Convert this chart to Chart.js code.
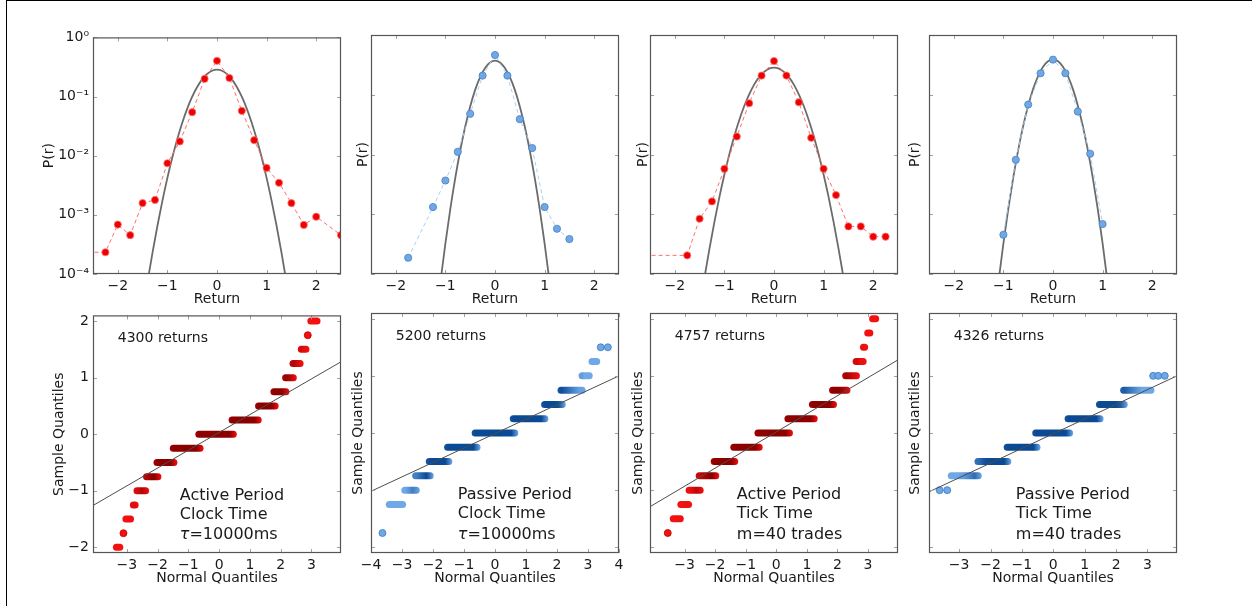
<!DOCTYPE html>
<html>
<head>
<meta charset="utf-8">
<script src="https://cdn.jsdelivr.net/npm/chart.js@4.4.0/dist/chart.umd.min.js"></script>
<style>
  html, body { margin: 0; padding: 0; background: #fff; }
  body { width: 1252px; height: 606px; position: relative; overflow: hidden; }
  #frame { position: absolute; left: 6px; top: 0; width: 1246px; height: 606px;
           border-top: 1px solid #000; border-left: 1px solid #000; box-sizing: border-box; }
  canvas { position: absolute; }
</style>
</head>
<body>
<div id="frame"></div>
<script>
// ---- top row: return distributions (bin centre, probability) ----
const returnTicks = [-2, -1, 0, 1, 2];
const probTicks = [1e-4, 1e-3, 1e-2, 1e-1, 1];

const ret1 = [-2.75, -2.25, -2.0, -1.75, -1.5, -1.25, -1.0, -0.75, -0.5, -0.25, 0, 0.25, 0.5, 0.75, 1.0, 1.25, 1.5, 1.75, 2.0, 2.5];
const prob1 = [2.33e-4, 2.33e-4, 6.85e-4, 4.54e-4, 1.58e-3, 1.79e-3, 7.45e-3, 0.0174, 0.0544, 0.199, 0.402, 0.206, 0.0573, 0.0183, 6.22e-3, 3.49e-3, 1.58e-3, 6.76e-4, 9.3e-4, 4.54e-4];

const ret2 = [-1.75, -1.25, -1.0, -0.75, -0.5, -0.25, 0, 0.25, 0.5, 0.75, 1.0, 1.25, 1.5];
const prob2 = [1.87e-4, 1.32e-3, 3.67e-3, 0.0111, 0.0479, 0.209, 0.463, 0.209, 0.0390, 0.0128, 1.32e-3, 5.72e-4, 3.85e-4];

const ret3 = [-2.75, -1.75, -1.5, -1.25, -1.0, -0.75, -0.5, -0.25, 0, 0.25, 0.5, 0.75, 1.0, 1.25, 1.5, 1.75, 2.0, 2.25];
const prob3 = [2.05e-4, 2.05e-4, 8.41e-4, 1.64e-3, 5.76e-3, 0.0200, 0.0721, 0.209, 0.367, 0.209, 0.0749, 0.0190, 5.76e-3, 2.09e-3, 6.26e-4, 6.26e-4, 4.21e-4, 4.21e-4];

const ret4 = [-1.0, -0.75, -0.5, -0.25, 0, 0.25, 0.5, 0.75, 1.0];
const prob4 = [4.54e-4, 8.15e-3, 0.0685, 0.229, 0.387, 0.229, 0.0523, 0.0103, 6.85e-4];

// gaussian fit curves
const fitXWide = [-1.5, -1.4, -1.3, -1.2, -1.1, -1.0, -0.9, -0.8, -0.7, -0.6, -0.5, -0.4, -0.3, -0.2, -0.1, 0,
                  0.1, 0.2, 0.3, 0.4, 0.5, 0.6, 0.7, 0.8, 0.9, 1.0, 1.1, 1.2, 1.3, 1.4, 1.5];
const fitXNarrow = [-1.2, -1.1, -1.0, -0.9, -0.8, -0.7, -0.6, -0.5, -0.4, -0.3, -0.2, -0.1, 0,
                    0.1, 0.2, 0.3, 0.4, 0.5, 0.6, 0.7, 0.8, 0.9, 1.0, 1.1, 1.2];
const fit1 = [2.2e-5, 7.4e-5, 2.3e-4, 6.6e-4, 1.74e-3, 4.22e-3, 9.4e-3, 0.0192, 0.0361, 0.0625, 0.0993, 0.145, 0.195, 0.241, 0.2735, 0.285,
              0.2735, 0.241, 0.195, 0.145, 0.0993, 0.0625, 0.0361, 0.0192, 9.4e-3, 4.22e-3, 1.74e-3, 6.6e-4, 2.3e-4, 7.4e-5, 2.2e-5];
const fit2 = [1.46e-5, 7.38e-5, 3.24e-4, 1.24e-3, 4.09e-3, 0.0118, 0.0294, 0.0638, 0.1205, 0.197, 0.2805, 0.347, 0.372,
              0.347, 0.2805, 0.197, 0.1205, 0.0638, 0.0294, 0.0118, 4.09e-3, 1.24e-3, 3.24e-4, 7.38e-5, 1.46e-5];
const fit3 = [2.67e-5, 8.85e-5, 2.69e-4, 7.53e-4, 1.95e-3, 4.62e-3, 0.0101, 0.0204, 0.0378, 0.0647, 0.1016, 0.1476, 0.197, 0.2415, 0.2735, 0.285,
              0.2735, 0.2415, 0.197, 0.1476, 0.1016, 0.0647, 0.0378, 0.0204, 0.0101, 4.62e-3, 1.95e-3, 7.53e-4, 2.69e-4, 8.85e-5, 2.67e-5];
const fit4 = [1.43e-5, 7.31e-5, 3.24e-4, 1.25e-3, 4.17e-3, 0.0121, 0.0303, 0.0662, 0.1253, 0.206, 0.294, 0.363, 0.390,
              0.363, 0.294, 0.206, 0.1253, 0.0662, 0.0303, 0.0121, 4.17e-3, 1.25e-3, 3.24e-4, 7.31e-5, 1.43e-5];

// ---- bottom row: QQ plots, one run of points per return level ----
const qqYTicks = [-2, -1, 0, 1, 2];
const qqXTicks = [-3, -2, -1, 0, 1, 2, 3];
const qqXTicksWide = [-4, -3, -2, -1, 0, 1, 2, 3, 4];

const level1 = [-2, -1.5, -1.25, -1, -0.75, -0.5, -0.25, 0, 0.25, 0.5, 0.75, 1, 1.25, 1.5, 2];
const runFrom1 = [-3.34, -3.03, -2.79, -2.67, -2.36, -2.02, -1.49, -0.66, 0.42, 1.28, 1.78, 2.16, 2.40, 2.67, 2.98];
const runTo1 = [-3.23, -2.88, -2.73, -2.39, -1.99, -1.47, -0.62, 0.46, 1.27, 1.82, 2.17, 2.41, 2.63, 2.82, 3.18];
const dotX1 = [-3.11, 2.88];
const dotY1 = [-1.75, 1.75];
const refX1 = [-4.1, 3.96];
const refY1 = [-1.26, 1.28];

const level2 = [-1.25, -1, -0.75, -0.5, -0.25, 0, 0.25, 0.5, 0.75, 1, 1.25];
const runFrom2 = [-3.41, -2.91, -2.56, -2.12, -1.53, -0.64, 0.59, 1.60, 2.13, 2.81, 3.13];
const runTo2 = [-2.98, -2.54, -2.09, -1.49, -0.58, 0.64, 1.61, 2.17, 2.81, 3.04, 3.28];
const dotX2 = [-3.63, 3.41, 3.64];
const dotY2 = [-1.75, 1.5, 1.5];
const refX2 = [-4, 4];
const refY2 = [-1.02, 1.0];

const level3 = [-1.5, -1.25, -1, -0.75, -0.5, -0.25, 0, 0.25, 0.5, 0.75, 1, 1.25, 1.5, 1.75, 2];
const runFrom3 = [-3.37, -3.12, -2.85, -2.52, -2.03, -1.39, -0.60, 0.38, 1.18, 1.84, 2.27, 2.61, 2.85, 2.99, 3.15];
const runTo3 = [-3.14, -2.87, -2.49, -1.98, -1.36, -0.56, 0.43, 1.24, 1.87, 2.31, 2.62, 2.84, 2.89, 3.06, 3.25];
const dotX3 = [-3.55];
const dotY3 = [-1.75];
const refX3 = [-4.13, 3.98];
const refY3 = [-1.29, 1.28];

const level4 = [-0.75, -0.5, -0.25, 0, 0.25, 0.5, 0.75];
const runFrom4 = [-3.25, -2.40, -1.47, -0.56, 0.47, 1.47, 2.24];
const runTo4 = [-2.39, -1.45, -0.52, 0.52, 1.49, 2.26, 3.11];
const dotX4 = [-3.62, -3.38, 3.18, 3.34, 3.55];
const dotY4 = [-1, -1, 1, 1, 1];
const refX4 = [-3.96, 3.94];
const refY4 = [-1.03, 1.0];

const countLabels = ['4300 returns', '5200 returns', '4757 returns', '4326 returns'];
const periodLabels = ['Active Period', 'Passive Period', 'Active Period', 'Passive Period'];
const timeLabels = ['Clock Time', 'Clock Time', 'Tick Time', 'Tick Time'];
const scaleLabels = [['\u03C4', '=10000ms'], ['\u03C4', '=10000ms'], ['', 'm=40 trades'], ['', 'm=40 trades']];

// ---- layout ----
const PLOT_W = 248, PAD_TOP = 10, PAD_RIGHT = 12, AXIS_H = 34;
const plotLefts = [93, 371, 650, 929];
const topCanvasLefts = [41, 355, 635, 907];
const bottomCanvasLefts = [51, 350, 630, 907];

const RED = { face: '#ee0000', edge: '#ff7777', dash: '#ff6e6e',
              dark: '#8c0000', mid: '#a80000', light: '#f21010', dot: '#c00000' };
const BLUE = { face: '#6fa8e6', edge: '#4a7fc2', dash: '#a9cff3',
               dark: '#0a4a94', mid: '#14559f', light: '#6ea8e6', dot: '#3f78c0' };

Chart.defaults.font.family = "'DejaVu Sans', 'Liberation Sans', sans-serif";
Chart.defaults.font.size = 14;
Chart.defaults.color = '#1a1a1a';
Chart.defaults.animation = false;
Chart.defaults.plugins.legend.display = false;
Chart.defaults.plugins.tooltip.enabled = false;

const minus = v => (v < 0 ? '\u2212' + (-v) : String(v));
const SUP = { '-': '\u207B', '0': '\u2070', '1': '\u00B9', '2': '\u00B2', '3': '\u00B3', '4': '\u2074' };
const pow10 = v => '10' + String(Math.round(Math.log10(v))).split('').map(c => SUP[c]).join('');
const xy = (xs, ys) => xs.map((x, i) => ({ x: x, y: ys[i] }));

// frame + inward tick marks like the old matplotlib style
const framePlugin = {
  id: 'frame',
  afterDatasetsDraw(chart) {
    const { ctx, chartArea: a, scales } = chart;
    ctx.save();
    ctx.strokeStyle = '#a0a0a0';
    ctx.lineWidth = 1;
    ctx.beginPath();
    scales.x.ticks.forEach(t => {
      const px = Math.round(scales.x.getPixelForValue(t.value)) + 0.5;
      ctx.moveTo(px, a.bottom); ctx.lineTo(px, a.bottom - 4);
      ctx.moveTo(px, a.top); ctx.lineTo(px, a.top + 4);
    });
    scales.y.ticks.forEach(t => {
      const py = Math.round(scales.y.getPixelForValue(t.value)) + 0.5;
      ctx.moveTo(a.left, py); ctx.lineTo(a.left + 4, py);
      ctx.moveTo(a.right, py); ctx.lineTo(a.right - 4, py);
    });
    ctx.stroke();
    ctx.strokeStyle = '#555';
    ctx.lineWidth = 1.2;
    ctx.strokeRect(a.left + 0.5, a.top + 0.5, a.width - 1, a.height - 1);
    ctx.restore();
  }
};

function notesPlugin(notes) {
  return {
    id: 'notes',
    afterDraw(chart) {
      const { ctx, chartArea: a } = chart;
      ctx.save();
      ctx.fillStyle = '#1a1a1a';
      ctx.textBaseline = 'middle';
      ctx.textAlign = 'left';
      notes.forEach(n => {
        let x = a.left + n.fx * a.width;
        const y = a.bottom - n.fy * a.height;
        if (n.italic) {
          ctx.font = "oblique " + n.size + "px 'DejaVu Sans'";
          ctx.fillText(n.italic, x, y);
          x += ctx.measureText(n.italic).width;
        }
        ctx.font = n.size + "px 'DejaVu Sans'";
        ctx.fillText(n.text, x, y);
      });
      ctx.restore();
    }
  };
}

function mix(c1, c2, t) {
  const a = parseInt(c1.slice(1), 16), b = parseInt(c2.slice(1), 16);
  const ch = s => Math.round(((a >> s) & 255) * (1 - t) + ((b >> s) & 255) * t);
  return 'rgb(' + ch(16) + ',' + ch(8) + ',' + ch(0) + ')';
}

// points thin out in the tails of the normal quantiles, so runs get lighter there
const sparseness = x => Math.max(0, Math.min(1, (Math.abs(x) - 2.1) / 0.8));

function runGradient(c, pal) {
  const chart = c.chart;
  const sx = chart.scales && chart.scales.x;
  if (!chart.chartArea || !sx) return pal.dark;
  const pts = c.dataset.data;
  const x0 = sx.getPixelForValue(pts[0].x) - 3.5;
  const x1 = sx.getPixelForValue(pts[1].x) + 3.5;
  const len = Math.max(x1 - x0, 1);
  const p0 = Math.min(0.4, 4 / len), p1 = 1 - Math.min(0.45, 7 / len);
  const g = chart.ctx.createLinearGradient(x0, 0, x1, 0);
  g.addColorStop(0, mix(pal.mid, pal.light, sparseness(pts[0].x)));
  for (let k = 0; k <= 4; k++) {
    const f = k / 4;
    const xv = pts[0].x + (pts[1].x - pts[0].x) * f;
    g.addColorStop(p0 + (p1 - p0) * f, mix(pal.dark, pal.light, sparseness(xv)));
  }
  g.addColorStop(1, pal.light);
  return g;
}

function addCanvas(left, top, w, h) {
  const c = document.createElement('canvas');
  c.width = w; c.height = h;
  c.style.left = left + 'px'; c.style.top = top + 'px';
  c.style.width = w + 'px'; c.style.height = h + 'px';
  document.body.appendChild(c);
  return c;
}

function makePanel(canvasLeft, plotLeft, plotTop, plotH, xCfg, yCfg, datasets, plugins) {
  const wy = plotLeft - canvasLeft;
  const canvas = addCanvas(canvasLeft, plotTop - PAD_TOP, wy + PLOT_W + PAD_RIGHT, PAD_TOP + plotH + AXIS_H);
  return new Chart(canvas, {
    type: 'line',
    data: { datasets: datasets },
    options: {
      responsive: false,
      devicePixelRatio: 1,
      events: [],
      layout: { padding: { top: PAD_TOP, right: PAD_RIGHT, left: 0, bottom: 0 } },
      scales: {
        x: Object.assign({
          grid: { display: false, drawTicks: false },
          border: { display: false },
          afterFit: s => { s.height = AXIS_H; },
        }, xCfg),
        y: Object.assign({
          grid: { display: false, drawTicks: false },
          border: { display: false },
          afterFit: s => { s.width = wy; },
        }, yCfg),
      },
    },
    plugins: [framePlugin].concat(plugins || []),
  });
}

// ---- top row ----
const topSets = [
  [ret1, prob1, fitXWide, fit1, RED],
  [ret2, prob2, fitXNarrow, fit2, BLUE],
  [ret3, prob3, fitXWide, fit3, RED],
  [ret4, prob4, fitXNarrow, fit4, BLUE],
];
topSets.forEach((t, i) => {
  const [rx, rp, fx, fp, pal] = t;
  makePanel(topCanvasLefts[i], plotLefts[i], 35, 239,
    {
      type: 'linear', min: -2.5, max: 2.5,
      afterBuildTicks: s => { s.ticks = returnTicks.map(v => ({ value: v })); },
      ticks: { padding: 4, maxRotation: 0, autoSkip: false, callback: v => minus(v) },
      title: { display: true, text: 'Return', padding: 0 },
    },
    {
      type: 'logarithmic', min: 1e-4, max: 1,
      afterBuildTicks: s => { s.ticks = probTicks.map(v => ({ value: v })); },
      ticks: { display: i === 0, padding: 4, autoSkip: false, callback: v => pow10(v) },
      title: { display: true, text: 'P(r)', padding: 0 },
    },
    [
      { data: xy(rx, rp), borderColor: pal.dash, borderWidth: 1, borderDash: [4, 3],
        pointRadius: 3.6, pointBackgroundColor: pal.face, pointBorderColor: pal.edge,
        pointBorderWidth: 0.8, clip: 0 },
      { data: xy(fx, fp), borderColor: '#6b6b6b', borderWidth: 1.8, pointRadius: 0,
        cubicInterpolationMode: 'monotone', clip: 0 },
    ]);
});

// ---- bottom row ----
const qqSets = [
  [level1, runFrom1, runTo1, dotX1, dotY1, refX1, refY1, RED, -4.1, 3.96, qqXTicks],
  [level2, runFrom2, runTo2, dotX2, dotY2, refX2, refY2, BLUE, -4, 4, qqXTicksWide],
  [level3, runFrom3, runTo3, dotX3, dotY3, refX3, refY3, RED, -4.13, 3.98, qqXTicks],
  [level4, runFrom4, runTo4, dotX4, dotY4, refX4, refY4, BLUE, -3.96, 3.94, qqXTicks],
];
qqSets.forEach((q, i) => {
  const [lv, from, to, dx, dy, rx, ry, pal, xMin, xMax, xTicks] = q;
  const ds = [
    { data: xy(rx, ry), borderColor: '#4d4d4d', borderWidth: 1, pointRadius: 0, clip: 0 },
    { data: xy(dx, dy), showLine: false, pointRadius: 3.5, pointBackgroundColor: pal.light,
      pointBorderColor: pal.dot, pointBorderWidth: 0.8 },
  ];
  lv.forEach((y, k) => ds.push({
    data: [{ x: from[k], y: y }, { x: to[k], y: y }],
    borderWidth: 7, borderCapStyle: 'round', pointRadius: 0,
    borderColor: c => runGradient(c, pal),
  }));
  const notes = [
    { text: countLabels[i], fx: 0.1, fy: 0.904, size: 14 },
    { text: periodLabels[i], fx: 0.35, fy: 0.242, size: 16 },
    { text: timeLabels[i], fx: 0.35, fy: 0.162, size: 16 },
    { italic: scaleLabels[i][0], text: scaleLabels[i][1], fx: 0.35, fy: 0.075, size: 16 },
  ];
  makePanel(bottomCanvasLefts[i], plotLefts[i], 313, 240,
    {
      type: 'linear', min: xMin, max: xMax,
      afterBuildTicks: s => { s.ticks = xTicks.map(v => ({ value: v })); },
      ticks: { padding: 4, maxRotation: 0, autoSkip: false, callback: v => minus(v) },
      title: { display: true, text: 'Normal Quantiles', padding: 0 },
    },
    {
      type: 'linear', min: -2.1, max: 2.1,
      afterBuildTicks: s => { s.ticks = qqYTicks.map(v => ({ value: v })); },
      ticks: { display: i === 0, padding: 4, autoSkip: false, callback: v => minus(v) },
      title: { display: true, text: 'Sample Quantiles', padding: 0 },
    },
    ds, [notesPlugin(notes)]);
});
</script>
</body>
</html>
